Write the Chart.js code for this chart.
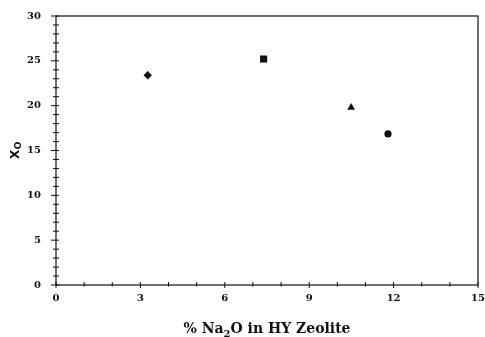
<!DOCTYPE html>
<html>
<head>
<meta charset="utf-8">
<script src="https://cdn.jsdelivr.net/npm/chart.js@4/dist/chart.umd.min.js"></script>
<style>
  html, body { margin: 0; padding: 0; background: #fff; }
  #wrap { width: 485px; height: 337px; }
</style>
</head>
<body>
<div id="wrap"><canvas id="chart"></canvas></div>
<script>
'use strict';

// ─── Data ────────────────────────────────────────────────────────────────────
const naOxide   = [3.26, 7.38, 10.49, 11.8];     // % Na2O in HY zeolite
const xoValues  = [23.4, 25.2, 19.8, 16.85];     // X_O
const markers   = ['rectRot', 'rect', 'triangle', 'circle'];
const xTickStep = 3;
const yTickStep = 5;

const SERIF = '"DejaVu Serif", "Liberation Serif", serif';
const SANS  = '"DejaVu Sans", sans-serif';
const INK   = '#111';

// Ticks that cross the axis lines, the closed frame and the two axis titles
// (drawn by hand so the subscripts look right)
const crossTicks = {
  id: 'crossTicks',
  afterDraw(chart) {
    const { ctx, chartArea: a, scales: { x, y } } = chart;
    ctx.save();
    ctx.strokeStyle = INK;
    ctx.lineWidth = 1.2;
    ctx.strokeRect(a.left, a.top, a.right - a.left, a.bottom - a.top);

    ctx.lineWidth = 1;
    ctx.beginPath();
    x.ticks.forEach((t) => {
      const px = x.getPixelForValue(t.value);
      const major = t.value % xTickStep === 0;
      ctx.moveTo(px, a.bottom - 3);
      ctx.lineTo(px, a.bottom + (major ? 3 : 1.5));
    });
    y.ticks.forEach((t) => {
      const py = y.getPixelForValue(t.value);
      const major = t.value % yTickStep === 0;
      ctx.moveTo(a.left - (major ? 5 : 3), py);
      ctx.lineTo(a.left + 3, py);
    });
    ctx.stroke();

    // x title: % Na2O in HY Zeolite
    ctx.fillStyle = INK;
    ctx.textBaseline = 'alphabetic';
    const parts = [
      { t: '% Na', f: `bold 14px ${SERIF}`, dy: 0 },
      { t: '2',    f: `bold 10px ${SERIF}`, dy: 4 },
      { t: 'O in HY Zeolite', f: `bold 14px ${SERIF}`, dy: 0 },
    ];
    let total = 0;
    parts.forEach((p) => { ctx.font = p.f; total += ctx.measureText(p.t).width; });
    let cx = (a.left + a.right) / 2 - total / 2;
    parts.forEach((p) => {
      ctx.font = p.f;
      ctx.fillText(p.t, cx, 333 + p.dy);
      cx += ctx.measureText(p.t).width;
    });

    // y title: X_O, rotated
    ctx.translate(18.5, 159);
    ctx.rotate(-Math.PI / 2);
    ctx.font = `bold 12px ${SANS}`;
    ctx.fillText('X', 0, 0);
    const wX = ctx.measureText('X').width;
    ctx.font = `bold 9px ${SANS}`;
    ctx.fillText('O', wX + 0.5, 2);
    ctx.restore();
  },
};

new Chart(document.getElementById('chart'), {
  type: 'scatter',
  data: {
    datasets: [{
      data: naOxide.map((v, i) => ({ x: v, y: xoValues[i] })),
      pointStyle: markers,
      pointRadius: [4.2, 5, 4.5, 3.6],
      backgroundColor: INK,
      borderColor: INK,
      borderWidth: 0,
    }],
  },
  options: {
    responsive: true,
    maintainAspectRatio: false,
    animation: false,
    layout: { padding: { top: 16, right: 7, left: 0, bottom: 0 } },
    plugins: { legend: { display: false }, tooltip: { enabled: false } },
    scales: {
      x: {
        type: 'linear', min: 0, max: 15,
        grid: { display: false },
        border: { display: false },
        ticks: {
          stepSize: 1, autoSkip: false, maxRotation: 0, padding: -1,
          color: INK, font: { family: SERIF, size: 10, weight: 'bold' },
          callback: (v) => (v % xTickStep === 0 ? v : ''),
        },
        afterFit: (s) => { s.height = 52; },
      },
      y: {
        type: 'linear', min: 0, max: 30,
        grid: { display: false },
        border: { display: false },
        ticks: {
          stepSize: 1, autoSkip: false, padding: 7,
          color: INK, font: { family: SERIF, size: 10, weight: 'bold' },
          callback: (v) => (v % yTickStep === 0 ? v : ''),
        },
        afterFit: (s) => { s.width = 56; },
      },
    },
  },
  plugins: [crossTicks],
});
</script>
</body>
</html>
